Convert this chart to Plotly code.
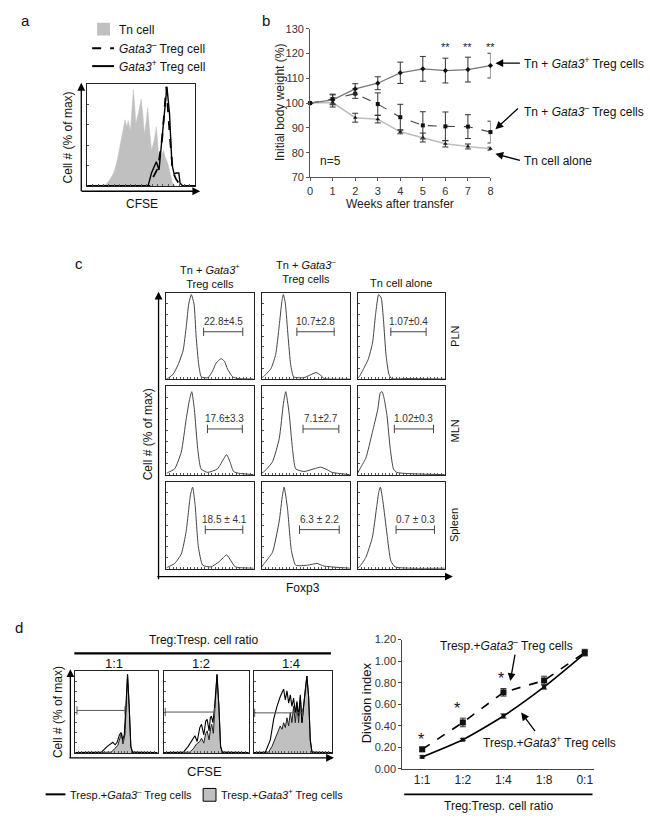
import plotly.graph_objects as go

W, H = 650, 823
FONT = "Liberation Sans, Arial, sans-serif"
GREY = "#c0c0c0"

# ---------------- Panel a : CFSE histograms (x = % of frame width, y = % of max)
a_tn_x = [0, 10, 16.8, 20, 24.4, 27, 29, 31, 33, 35, 36.6, 38, 40, 41.5, 42.7, 44, 45, 47.5, 50, 51.5,
          53, 54.5, 56, 57.5, 59.5, 62, 64, 65.5, 66.5, 68.5, 70.7, 72.5, 74.7, 77, 79, 82, 100]
a_tn_y = [0, 0, 1.6, 5, 12.8, 22, 32, 42, 54, 65, 58, 64, 54, 75, 94, 78, 61, 72, 85, 70,
          51, 62, 77, 58, 35, 45, 58, 40, 22, 30, 35, 28, 22, 12, 3, 0, 0]
a_pos_x = [0, 56.4, 59.5, 62, 64, 66.5, 68.6, 71.6, 73.8, 76.2, 78.4, 80.5, 82.3, 84.8, 86, 88.4, 100]
a_pos_y = [0.5, 0.5, 13, 20, 24, 16, 38, 71, 97, 71, 22, 12, 13, 13, 3, 0.5, 0.5]
a_neg_x = [0, 58, 61.6, 65.5, 69.5, 73.2, 76.8, 79.3, 82.3, 85.4, 88.4, 100]
a_neg_y = [0.5, 0.5, 10, 18, 48, 97, 45, 14, 7, 2, 0.5, 0.5]

# ---------------- Panel b : body weight
weeks = [0, 1, 2, 3, 4, 5, 6, 7, 8]
b_pos = [100, 101.3, 105.7, 108, 112.2, 113.8, 113.1, 113.5, 115.1]
b_pos_err = [0, 2, 2.1, 2.6, 4.3, 5, 5, 5, 5]
b_neg = [100, 101.6, 103.8, 99.6, 94.3, 91, 90.6, 90.5, 88.3]
b_neg_err = [0, 2, 1.9, 4.5, 5.2, 5.5, 5.8, 4.8, 4.4]
b_tn = [100, 100.2, 94.1, 93.5, 88.4, 86.1, 83.6, 82.5, 81.6]
b_tn_err = [0, 1.8, 1.8, 1.5, 0.8, 1.8, 1.3, 1, 0.6]
b_sig_weeks = [6, 7, 8]

# ---------------- Panel c : Foxp3 histograms
pln_pos_x = [0, 1, 7.6, 13.3, 19, 22.8, 25.5, 28.5, 31.6, 34, 37, 40, 47.5, 53, 57, 62.7, 66.5, 70, 76, 82, 100]
pln_pos_y = [1, 1, 6, 17, 33, 62, 87, 98, 87, 50, 17, 3, 2, 10, 19, 24, 21, 12, 3, 1, 0.5]
pln_neg_x = [0, 1.8, 10.6, 16, 20, 23, 24.7, 27, 30, 33, 36.4, 47.7, 54.8, 61.8, 67, 70.7, 100]
pln_neg_y = [2, 3, 12.5, 29, 62, 90, 98, 87, 50, 17, 3, 2, 5, 8, 5, 1, 0.5]
pln_tn_x = [0, 1.7, 6.8, 12, 17, 20.5, 24, 27, 29.7, 32.4, 35.8, 39, 56, 100]
pln_tn_y = [2, 3, 12.5, 23, 42, 75, 98, 94, 67, 29, 6, 1, 1, 0.5]
mln_pos_x = [0, 1.9, 9.4, 17, 22.6, 26.4, 29, 32, 35.8, 39.6, 47, 58.5, 66, 69, 72.8, 77, 83, 100]
mln_pos_y = [2, 3, 7, 26, 63, 85, 94, 74, 30, 7, 3, 7, 19, 23, 15, 4, 2, 0.5]
mln_neg_x = [0, 3, 12.4, 20, 24.8, 27.4, 31.2, 35, 38.7, 48, 59.4, 67, 74.4, 80, 100]
mln_neg_y = [2, 4, 15, 41, 81, 94, 70, 30, 7, 4, 7, 9, 6, 3, 0.5]
mln_tn_x = [0, 1.9, 9.3, 16.8, 23, 26, 28, 30.6, 33.6, 37.3, 41, 44.8, 100]
mln_tn_y = [2, 6, 19, 48, 74, 93, 94, 85, 67, 30, 7, 3, 0.5]
spl_pos_x = [0, 1.9, 9.4, 17, 22.6, 27.5, 30, 32.8, 36.6, 41.5, 51, 60.4, 69, 74, 79, 100]
spl_pos_y = [1, 2, 6, 17, 43, 85, 94, 74, 25, 4, 2, 8, 16, 9, 2, 0.5]
spl_neg_x = [0, 3, 12.4, 20, 23.7, 25.6, 29.3, 33.8, 38.7, 52, 63, 70.7, 100]
spl_neg_y = [2, 6, 19, 55, 85, 94, 70, 21, 4, 4, 6, 3, 0.5]
spl_tn_x = [0, 1.9, 9.3, 16.8, 21.6, 24.3, 26, 29, 33.6, 38, 43, 100]
spl_tn_y = [1, 2, 13, 36, 70, 89, 94, 77, 40, 9, 2, 0.5]

c_col_titles = ["Tn + <i>Gata3</i><sup>+</sup><br>Treg cells", "Tn + <i>Gata3</i><sup>–</sup><br>Treg cells", "Tn cell alone"]
c_row_titles = ["PLN", "MLN", "Spleen"]
c_gate_lo = [[42.6, 40, 38], [47, 47, 42], [44.5, 43, 44]]
c_gate_hi = [[87.5, 82.3, 78.5], [87, 87.6, 87], [87.5, 88, 88]]
c_gate_level = [55, 52, 45]
c_gate_text = [["22.8±4.5", "10.7±2.8", "1.07±0.4"],
               ["17.6±3.3", "7.1±2.7", "1.02±0.3"],
               ["18.5 ± 4.1", "6.3 ± 2.2", "0.7 ± 0.3"]]

# ---------------- Panel d (left) : CFSE histograms
d_ratio_titles = ["1:1", "1:2", "1:4"]
d11_line_x = [0, 31.7, 38.9, 41.7, 45.6, 48.4, 50.8, 53.6, 55.6, 57.5, 59.5, 61.5, 63.5, 65.5, 67.5, 69.4, 100]
d11_line_y = [0.5, 1, 8, 10, 13, 10, 13, 22, 25, 16, 22, 57, 96, 57, 8, 1, 0.5]
d11_fill_x = [0, 43.7, 47.6, 51.6, 54.8, 56.3, 57.9, 60.3, 61.9, 63.5, 65.5, 67.5, 69.4, 100]
d11_fill_y = [0, 1, 5, 9, 20, 24, 11, 22, 57, 96, 57, 8, 1, 0]
d12_line_x = [0, 23.3, 29, 34, 36.8, 39.5, 42.6, 44.6, 47.3, 49.6, 51.2, 53.5, 55, 56.2, 58, 60, 62.8, 65, 67, 69, 100]
d12_line_y = [0.5, 1, 8, 16, 21, 14, 31, 35, 22, 39, 41, 27, 43, 45, 37, 57, 96, 57, 8, 1, 0.5]
d12_fill_x = [0, 31, 34.9, 38.8, 42.6, 44.6, 47.3, 49.6, 51.2, 53.5, 55.4, 56.6, 58.5, 60.5, 62.8, 65, 67, 69, 100]
d12_fill_y = [0, 1, 5, 11, 14, 18, 12, 24, 27, 16, 31, 35, 24, 53, 96, 57, 8, 1, 0]
d14_line_x = [0, 14.9, 21.3, 25.5, 29.8, 34, 38.3, 40.4, 42.6, 44.7, 46.8, 48.9, 51, 53.2, 55.3, 57.4,
              59.6, 61.7, 63.8, 66, 68, 70.2, 72.3, 74.5, 100]
d14_line_y = [0.5, 1, 16, 41, 57, 69, 78, 65, 76, 61, 71, 57, 67, 49, 63, 45, 69, 37, 57, 78, 94, 69, 16, 1, 0.5]
d14_fill_x = [0, 19, 23.4, 27.7, 31.9, 34, 36.2, 38.3, 40.4, 42.6, 44.7, 46.8, 48.9, 51, 53.2, 55.3, 57.4,
              59.6, 61.7, 63.8, 66, 68, 70.2, 72.3, 74.5, 100]
d14_fill_y = [0, 1, 8, 18, 27, 33, 29, 37, 31, 43, 33, 49, 37, 57, 37, 61, 37, 71, 37, 61, 78, 94, 69, 16, 1, 0]
d_gate_lo = [2, 2, 1.3]
d_gate_hi = [60.3, 60, 62.5]
d_gate_level = [52, 50, 49]

# ---------------- Panel d (right) : division index
d_ratios = ["1:1", "1:2", "1:4", "1:8", "0:1"]
d_neg = [0.18, 0.43, 0.71, 0.82, 1.08]
d_neg_err = [0.02, 0.04, 0.035, 0.04, 0.03]
d_pos = [0.11, 0.27, 0.49, 0.76, 1.07]
d_pos_err = [0.01, 0.01, 0.02, 0.02, 0.02]
d_star_x = [-0.02, 0.85, 1.95]
d_star_y = [0.27, 0.56, 0.84]


def X(px):
    return px / W


def Y(py):
    return 1 - py / H


def aid(p, n):
    return p if n == 1 else f"{p}{n}"


def lay(p, n):
    return (p + "axis") if n == 1 else f"{p}axis{n}"


fig = go.Figure()
axes = {}
annotations = []
shapes = []


def frame(n, x0, x1, y0, y1, xr=(0, 100), yr=(0, 100), xdt=5, ydt=20):
    axes[lay("x", n)] = dict(domain=[X(x0), X(x1)], range=list(xr), anchor=aid("y", n),
                             showline=True, mirror=True, linecolor="#222", linewidth=1,
                             ticks="inside", ticklen=2, tickcolor="#555", dtick=xdt, tick0=0,
                             showticklabels=False, showgrid=False, zeroline=False)
    axes[lay("y", n)] = dict(domain=[Y(y1), Y(y0)], range=list(yr), anchor=aid("x", n),
                             showline=True, mirror=True, linecolor="#222", linewidth=1,
                             ticks="inside", ticklen=2, tickcolor="#555", dtick=ydt, tick0=0,
                             showticklabels=False, showgrid=False, zeroline=False)


def on(n):
    return dict(xaxis=aid("x", n), yaxis=aid("y", n), showlegend=False, hoverinfo="skip")


def txt(px, py, text, size=12, xa="center", angle=0, color="#111", ya="middle"):
    annotations.append(dict(x=X(px), y=Y(py), xref="paper", yref="paper", text=text, showarrow=False,
                            xanchor=xa, yanchor=ya, textangle=angle,
                            font=dict(family=FONT, size=size, color=color)))


def arrow(hx, hy, tx, ty, width=1.3, size=1.2, color="#000"):
    annotations.append(dict(x=X(hx), y=Y(hy), xref="paper", yref="paper", text="", showarrow=True,
                            ax=tx - hx, ay=ty - hy, arrowhead=2, arrowsize=size, arrowwidth=width,
                            arrowcolor=color, standoff=0, startstandoff=0))


def hline(x0, x1, y, width=2, dash="solid", color="#000"):
    shapes.append(dict(type="line", xref="paper", yref="paper", x0=X(x0), x1=X(x1), y0=Y(y), y1=Y(y),
                       line=dict(color=color, width=width, dash=dash)))


# =============== Panel a
frame(1, 85, 194, 79, 183)
fig.add_trace(go.Scatter(x=a_tn_x, y=a_tn_y, mode="lines", fill="tozeroy", fillcolor=GREY,
                         line=dict(color=GREY, width=0.5), **on(1)))
fig.add_trace(go.Scatter(x=a_neg_x, y=a_neg_y, mode="lines", line=dict(color="#000", width=1.8, dash="dash"), **on(1)))
fig.add_trace(go.Scatter(x=a_pos_x, y=a_pos_y, mode="lines", line=dict(color="#000", width=1.4), **on(1)))
arrow(79, 78, 79, 188)
arrow(199, 188, 79, 188)
txt(23, 15, "a", 15)
shapes.append(dict(type="rect", xref="paper", yref="paper", x0=X(95), x1=X(108), y0=Y(30), y1=Y(17),
                   fillcolor=GREY, line=dict(width=0)))
hline(90, 112, 43, 2, "dash")
hline(90, 112, 61, 2)
txt(115, 24, "Tn cell", 12, "left")
txt(115, 43, "<i>Gata3</i><sup>–</sup> Treg cell", 12, "left")
txt(115, 61, "<i>Gata3</i><sup>+</sup> Treg cell", 12, "left")
txt(66, 133, "Cell # (% of max)", 12, angle=-90)
txt(140, 201, "CFSE", 12)

# =============== Panel b
axes["xaxis2"] = dict(domain=[X(310), X(492)], range=[0, 8], anchor="y2", showline=True, linecolor="#555",
                      linewidth=1, ticks="outside", ticklen=3, tickcolor="#555", tickvals=weeks,
                      tickfont=dict(family=FONT, size=11, color="#333"), showgrid=False, zeroline=False)
axes["yaxis2"] = dict(domain=[Y(174), Y(23)], range=[70, 130], anchor="x2", showline=True, linecolor="#555",
                      linewidth=1, ticks="outside", ticklen=3, tickcolor="#555", dtick=10,
                      tickfont=dict(family=FONT, size=11, color="#333"), showgrid=False, zeroline=False)
ebar = dict(type="data", thickness=1, width=3, color="#333")
fig.add_trace(go.Scatter(x=weeks, y=b_tn, mode="lines+markers", line=dict(color="#bdbdbd", width=1.6),
                         marker=dict(color="#111", size=4, symbol="triangle-up"),
                         error_y=dict(array=b_tn_err, **ebar), cliponaxis=False, **on(2)))
fig.add_trace(go.Scatter(x=weeks, y=b_neg, mode="lines+markers", line=dict(color="#444", width=1.1, dash="dash"),
                         marker=dict(color="#111", size=4, symbol="square"),
                         error_y=dict(array=b_neg_err, **ebar), cliponaxis=False, **on(2)))
fig.add_trace(go.Scatter(x=weeks, y=b_pos, mode="lines+markers", line=dict(color="#777", width=1.3),
                         marker=dict(color="#111", size=4, symbol="diamond"),
                         error_y=dict(array=b_pos_err, **ebar), cliponaxis=False, **on(2)))
for wk in b_sig_weeks:
    annotations.append(dict(x=wk, y=122.6, xref="x2", yref="y2", text="**", showarrow=False,
                            font=dict(family=FONT, size=11, color="#222")))
txt(265, 15, "b", 15)
txt(279, 98, "Initial body weight (%)", 12, angle=-90, color="#222")
txt(401, 201, "Weeks after transfer", 12, color="#222")
txt(318, 157, "n=5", 12, "left", color="#222")
txt(524, 58, "Tn + <i>Gata3</i><sup>+</sup> Treg cells", 12, "left")
txt(524, 107, "Tn + <i>Gata3</i><sup>–</sup> Treg cells", 12, "left")
txt(524, 157, "Tn cell alone", 12, "left")
arrow(497, 58, 523, 58)
arrow(497, 125, 521, 103)
arrow(497, 150, 523, 157)

# =============== Panel c
c_cols = [(165, 253), (261, 350), (358, 446)]
c_rows = [(291, 379), (386, 476), (483, 571)]
c_data = [[(pln_pos_x, pln_pos_y), (pln_neg_x, pln_neg_y), (pln_tn_x, pln_tn_y)],
          [(mln_pos_x, mln_pos_y), (mln_neg_x, mln_neg_y), (mln_tn_x, mln_tn_y)],
          [(spl_pos_x, spl_pos_y), (spl_neg_x, spl_neg_y), (spl_tn_x, spl_tn_y)]]
n = 3
for r in range(3):
    for c in range(3):
        x0, x1 = c_cols[c]
        y0, y1 = c_rows[r]
        frame(n, x0, x1, y0, y1, xdt=4, ydt=12.5)
        hx, hy = c_data[r][c]
        fig.add_trace(go.Scatter(x=hx, y=hy, mode="lines", line=dict(color="#444", width=1, shape="spline",
                                                                      smoothing=0.5), **on(n)))
        lo, hi, lv = c_gate_lo[r][c], c_gate_hi[r][c], c_gate_level[r]
        fig.add_trace(go.Scatter(x=[lo, hi], y=[lv, lv], mode="lines+markers", line=dict(color="#444", width=1),
                                 marker=dict(symbol="line-ns-open", size=6, line=dict(color="#444", width=1)),
                                 **on(n)))
        annotations.append(dict(x=(lo + hi) / 2, y=lv + 3, xref=aid("x", n), yref=aid("y", n),
                                text=c_gate_text[r][c], showarrow=False, yanchor="bottom",
                                font=dict(family=FONT, size=10, color="#333")))
        n += 1
txt(77, 261, "c", 15)
col_y = [274, 269, 281]
for c in range(3):
    txt((c_cols[c][0] + c_cols[c][1]) / 2, col_y[c], c_col_titles[c], 11)
for r in range(3):
    txt(456, (c_rows[r][0] + c_rows[r][1]) / 2, c_row_titles[r], 11, angle=-90)
arrow(157, 290, 157, 579)
arrow(454, 579, 157, 579)
txt(146, 435, "Cell # (% of max)", 12, angle=-90)
txt(303, 591, "Foxp3", 12)

# =============== Panel d left
d_cols = [(73, 156), (162, 248), (253, 332)]
d_data = [(d11_fill_x, d11_fill_y, d11_line_x, d11_line_y),
          (d12_fill_x, d12_fill_y, d12_line_x, d12_line_y),
          (d14_fill_x, d14_fill_y, d14_line_x, d14_line_y)]
for i in range(3):
    frame(n, d_cols[i][0], d_cols[i][1], 675, 758, xdt=4, ydt=12.5)
    fx, fy, lx, ly = d_data[i]
    fig.add_trace(go.Scatter(x=fx, y=fy, mode="lines", fill="tozeroy", fillcolor=GREY,
                             line=dict(color="#222", width=1), **on(n)))
    fig.add_trace(go.Scatter(x=lx, y=ly, mode="lines", line=dict(color="#000", width=1.1), **on(n)))
    fig.add_trace(go.Scatter(x=[d_gate_lo[i], d_gate_hi[i]], y=[d_gate_level[i]] * 2, mode="lines+markers",
                             line=dict(color="#555", width=1),
                             marker=dict(symbol="line-ns-open", size=6, line=dict(color="#555", width=1)),
                             **on(n)))
    txt([112, 200, 291][i], 667, d_ratio_titles[i], 13)
    n += 1
txt(16, 631, "d", 15)
txt(202, 643, "Treg:Tresp. cell ratio", 12)
hline(72, 331, 657, 2.2)
arrow(68, 673, 68, 763)
arrow(334, 763, 68, 763)
txt(55, 716, "Cell # (% of max)", 12, angle=-90)
txt(203, 777, "CFSE", 13)
hline(43, 63, 800, 2)
txt(66, 800, "Tresp.+<i>Gata3</i><sup>–</sup> Treg cells", 11, "left")
shapes.append(dict(type="rect", xref="paper", yref="paper", x0=X(202), x1=X(215), y0=Y(807), y1=Y(794),
                   fillcolor=GREY, line=dict(color="#000", width=1)))
txt(218, 800, "Tresp.+<i>Gata3</i><sup>+</sup> Treg cells", 11, "left")

# =============== Panel d right
axes[lay("x", n)] = dict(domain=[X(403), X(597)], range=[-0.49, 4.24], type="category", anchor=aid("y", n),
                         showline=True, linecolor="#444", linewidth=1, ticks="", showgrid=False, zeroline=False,
                         tickfont=dict(family=FONT, size=12, color="#222"))
axes[lay("y", n)] = dict(domain=[Y(774), Y(643)], range=[0, 1.2], anchor=aid("x", n), dtick=0.2,
                         tickformat=".2f", showline=True, linecolor="#444", linewidth=1, ticks="outside",
                         ticklen=3, tickcolor="#444", showgrid=False, zeroline=False,
                         tickfont=dict(family=FONT, size=11, color="#333"))
ebar2 = dict(type="data", thickness=1, width=3, color="#333")
fig.add_trace(go.Scatter(x=d_ratios, y=d_pos, mode="lines+markers",
                         line=dict(color="#000", width=1.6, shape="spline", smoothing=0.6),
                         marker=dict(color="#111", size=4, symbol="square"),
                         error_y=dict(array=d_pos_err, **ebar2), cliponaxis=False, **on(n)))
fig.add_trace(go.Scatter(x=d_ratios, y=d_neg, mode="lines+markers",
                         line=dict(color="#000", width=1.6, dash="dash"),
                         marker=dict(color="#111", size=6, symbol="square"),
                         error_y=dict(array=d_neg_err, **ebar2), cliponaxis=False, **on(n)))
for sx, sy in zip(d_star_x, d_star_y):
    annotations.append(dict(x=sx, y=sy, xref=aid("x", n), yref=aid("y", n), text="*", showarrow=False,
                            font=dict(family=FONT, size=16, color="#111")))
txt(367, 707, "Division index", 13, angle=-90)
hline(405, 595, 800, 1.8)
txt(500, 812, "Treg:Tresp. cell ratio", 12)
txt(508, 648, "Tresp.+<i>Gata3</i><sup>–</sup> Treg cells", 12)
txt(552, 747, "Tresp.+<i>Gata3</i><sup>+</sup> Treg cells", 12)
arrow(512, 685, 517, 657)
arrow(523, 717, 538, 737)

fig.update_layout(width=W, height=H, autosize=False, margin=dict(l=0, r=0, t=0, b=0),
                  paper_bgcolor="white", plot_bgcolor="white", showlegend=False,
                  font=dict(family=FONT, size=12, color="#111"),
                  annotations=annotations, shapes=shapes, **axes)

fig.write_html("out.html", config={"displayModeBar": False, "staticPlot": True},
               post_script="document.body.style.margin='0';")
